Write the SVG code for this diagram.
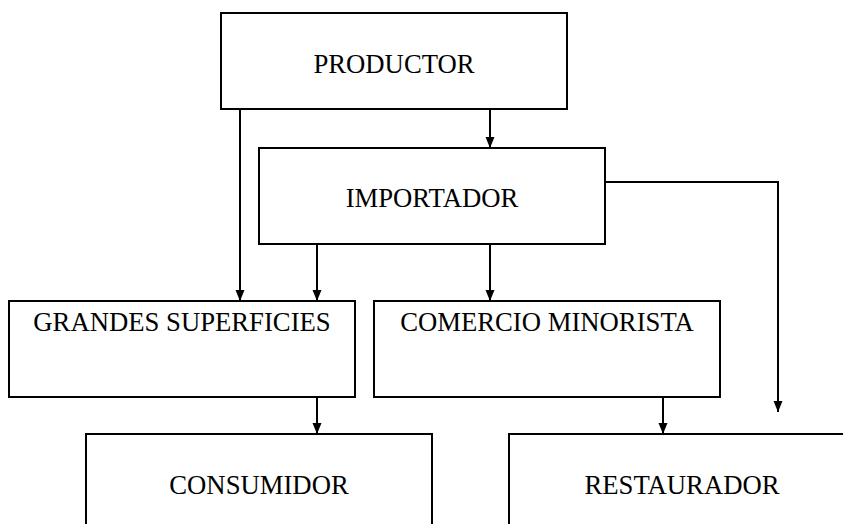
<svg xmlns="http://www.w3.org/2000/svg" width="843" height="524" viewBox="0 0 843 524">
<defs>
<style>
.box{fill:#fff;stroke:#000;stroke-width:2}
.lbl{font-family:"Liberation Serif","Times New Roman",serif;font-size:26.7px;fill:#000;text-anchor:middle}
.con{fill:none;stroke:#000;stroke-width:2}
</style>
<marker id="arr" markerUnits="userSpaceOnUse" markerWidth="12" markerHeight="12" viewBox="0 0 12 12" refX="11" refY="6" orient="auto">
<path d="M0,1.5 L11,6 L0,10.5 Z" fill="#000"/>
</marker>
</defs>
<rect width="843" height="524" fill="#fff"/>
<g id="connectors">
<line class="con" x1="240" y1="109" x2="240" y2="301" marker-end="url(#arr)"/>
<line class="con" x1="490" y1="109" x2="490" y2="148" marker-end="url(#arr)"/>
<line class="con" x1="317" y1="244" x2="317" y2="301" marker-end="url(#arr)"/>
<line class="con" x1="490" y1="244" x2="490" y2="301" marker-end="url(#arr)"/>
<polyline class="con" points="605,182 778,182 778,412" marker-end="url(#arr)"/>
<line class="con" x1="317" y1="397" x2="317" y2="434" marker-end="url(#arr)"/>
<line class="con" x1="663" y1="397" x2="663" y2="434" marker-end="url(#arr)"/>
</g>
<g id="productor">
<rect class="box" x="221" y="13" width="346" height="96"/>
<text class="lbl" x="394" y="73">PRODUCTOR</text>
</g>
<g id="importador">
<rect class="box" x="259" y="148" width="346" height="96"/>
<text class="lbl" x="432" y="207">IMPORTADOR</text>
</g>
<g id="grandes">
<rect class="box" x="9" y="301" width="346" height="96"/>
<text class="lbl" x="182" y="331">GRANDES SUPERFICIES</text>
</g>
<g id="comercio">
<rect class="box" x="374" y="301" width="346" height="96"/>
<text class="lbl" x="547" y="331">COMERCIO MINORISTA</text>
</g>
<g id="consumidor">
<rect class="box" x="86" y="434" width="346" height="120"/>
<text class="lbl" x="259" y="494">CONSUMIDOR</text>
</g>
<g id="restaurador">
<rect class="box" x="509" y="434" width="346" height="120"/>
<text class="lbl" x="682" y="494">RESTAURADOR</text>
</g>
</svg>
